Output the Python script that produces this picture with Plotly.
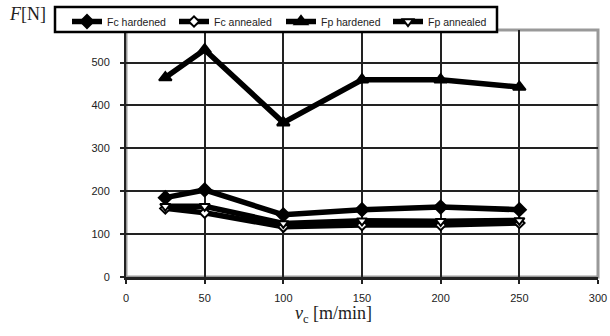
import plotly.graph_objects as go

vc = [25, 50, 100, 150, 200, 250]
fc_hardened = [185, 203, 145, 157, 163, 157]
fc_annealed = [160, 150, 117, 121, 121, 126]
fp_hardened = [465, 530, 360, 460, 460, 443]
fp_annealed = [165, 165, 125, 131, 130, 132]

x_ticks = [0, 50, 100, 150, 200, 250, 300]
y_ticks = [0, 100, 200, 300, 400, 500]

series = [
    ("Fc hardened", fc_hardened, "diamond", "black", 10),
    ("Fc annealed", fc_annealed, "diamond", "white", 8),
    ("Fp hardened", fp_hardened, "triangle-up", "black", 11),
    ("Fp annealed", fp_annealed, "triangle-down", "white", 9),
]

fig = go.Figure()
for name, vals, sym, fill, sz in series:
    fig.add_trace(go.Scatter(
        x=vc, y=vals, name=name, mode="lines+markers",
        line=dict(color="black", width=5.5),
        marker=dict(symbol=sym, size=sz, color=fill,
                    line=dict(color="black", width=2)),
    ))

# plot area in pixels: x 126..598, y 30..276.7
PW, PH = 472.0, 246.7


def px_x(p):
    return (p - 126) / PW


def px_y(p):
    return (276.7 - p) / PH


fig.update_layout(
    width=610, height=336,
    margin=dict(l=126, r=12, t=30, b=59, autoexpand=False),
    plot_bgcolor="white", paper_bgcolor="white",
    font=dict(family="Liberation Sans, Arial", size=11, color="#222"),
    showlegend=True,
    legend=dict(
        orientation="h", xref="container", yref="container",
        x=67 / 610, y=1 - 7 / 336, xanchor="left", yanchor="top",
        bgcolor="rgba(0,0,0,0)", borderwidth=0,
        font=dict(size=10.5, color="#222"),
        entrywidth=62, entrywidthmode="pixels",
        itemwidth=30, tracegroupgap=0,
    ),
    shapes=[
        dict(type="rect", xref="paper", yref="paper", x0=0, x1=1, y0=0, y1=1,
             line=dict(color="#999", width=3), layer="below"),
        dict(type="rect", xref="paper", yref="paper",
             x0=px_x(55), x1=px_x(497), y0=px_y(32), y1=px_y(7),
             line=dict(color="black", width=2.5), fillcolor="white", layer="above"),
    ],
    annotations=[
        dict(text="<i>F</i>[N]", xref="paper", yref="paper", x=px_x(7), y=px_y(14),
             xanchor="left", yanchor="middle", showarrow=False,
             font=dict(family="Liberation Serif, Times New Roman", size=18, color="#222")),
        dict(text="<i>v</i><sub>c</sub> [m/min]", xref="paper", yref="paper", x=px_x(333), y=px_y(314),
             xanchor="center", yanchor="middle", showarrow=False,
             font=dict(family="Liberation Serif, Times New Roman", size=18, color="#222")),
    ],
)

fig.update_xaxes(
    range=[0, 300], tickvals=x_ticks, ticktext=[str(v) for v in x_ticks],
    showgrid=True, gridcolor="#222", gridwidth=2,
    showline=True, linecolor="#222", linewidth=2.5,
    ticks="outside", ticklen=4, tickwidth=2, tickcolor="#222",
    ticklabelstandoff=5,
    zeroline=False, automargin=False,
)
fig.update_yaxes(
    range=[0, 576], tickvals=y_ticks, ticktext=[str(v) for v in y_ticks],
    showgrid=True, gridcolor="#222", gridwidth=2,
    showline=True, linecolor="#222", linewidth=2,
    ticks="outside", ticklen=4, tickwidth=2, tickcolor="#222",
    ticklabelstandoff=8,
    zeroline=False, automargin=False,
)

fig.write_html("out.html", config={"displayModeBar": False},
               post_script="document.body.style.margin='0';")
